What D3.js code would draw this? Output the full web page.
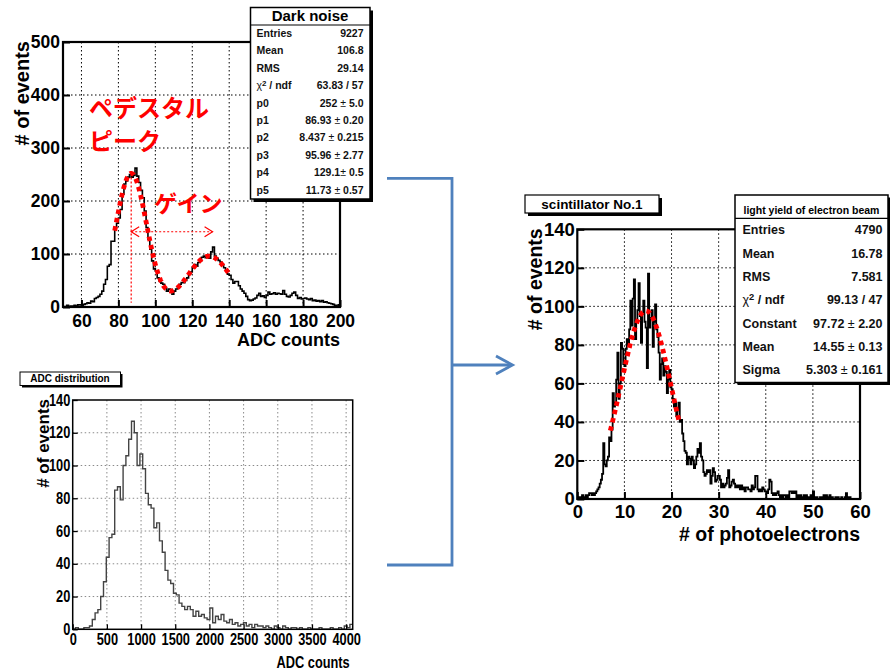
<!DOCTYPE html>
<html>
<head>
<meta charset="utf-8">
<script src="https://cdn.jsdelivr.net/npm/d3@7"></script>
<style>
  html, body { margin: 0; padding: 0; background: #fff; }
  svg { display: block; }
</style>
</head>
<body>
<svg id="chart" width="890" height="670"></svg>
<script>
// ---------------- Dark noise spectrum (1 ADC count per bin, 50..200) ----------------
const darkBinStart = 50;
const darkBinWidth = 1;
const darkCounts = [
  0, 1, 3, 1, 2, 2, 3, 2, 4, 4,
  3, 5, 6, 8, 7, 11, 10, 16, 18, 20,
  24, 30, 43, 52, 77, 80, 124, 124, 150, 158,
  168, 184, 213, 232, 238, 245, 250, 245, 248, 262,
  247, 235, 220, 206, 181, 150, 128, 109, 87, 72,
  68, 55, 49, 45, 43, 36, 30, 34, 33, 24,
  30, 34, 36, 43, 46, 46, 50, 55, 62, 66,
  74, 80, 77, 84, 87, 94, 96, 93, 96, 92,
  104, 113, 96, 92, 88, 85, 80, 74, 70, 62,
  60, 52, 45, 48, 48, 40, 34, 30, 26, 20,
  14, 12, 13, 15, 17, 22, 26, 20, 21, 18,
  22, 28, 24, 25, 27, 24, 26, 25, 24, 31,
  24, 20, 19, 22, 26, 28, 22, 16, 18, 15,
  16, 17, 15, 14, 16, 12, 13, 11, 12, 10,
  12, 9, 10, 8, 7, 6, 5, 3, 2, 4
];
// double-gaussian fit parameters p0..p5
const darkFitParams = [252, 86.93, 8.437, 95.96, 129.1, 11.73];
const darkFitRange = [78, 140];
const darkXTicks = [60, 80, 100, 120, 140, 160, 180, 200];
const darkYTicks = [0, 100, 200, 300, 400, 500];
const darkStatsLabels = ["Entries", "Mean", "RMS", "\u03c7\u00b2 / ndf", "p0", "p1", "p2", "p3", "p4", "p5"];
const darkStatsValues = ["9227", "106.8", "29.14", "63.83 / 57", "252 \u00b1 5.0", "86.93 \u00b1 0.20",
                         "8.437 \u00b1 0.215", "95.96 \u00b1 2.77", "129.1\u00b1 0.5", "11.73 \u00b1 0.57"];
// gain arrow: from pedestal peak to the first photoelectron peak
const gainArrowLevel = 142;
const gainArrowEnd = 131;
const pedestalLineBottom = 8;

// ---------------- ADC distribution (100 bins over 0..4096) ----------------
const adcBinStart = 0;
const adcBinWidth = 40.96;
const adcCounts = [
  0, 1, 0, 0, 1, 1, 2, 6, 10, 12,
  20, 29, 44, 56, 58, 85, 87, 79, 100, 106,
  116, 127, 120, 100, 107, 98, 83, 76, 74, 62,
  65, 54, 47, 36, 30, 28, 22, 21, 16, 14,
  12, 14, 12, 8, 11, 8, 9, 7, 6, 13,
  4, 8, 6, 9, 5, 4, 6, 3, 4, 2,
  3, 4, 2, 3, 1, 3, 2, 2, 1, 2,
  1, 0, 2, 1, 0, 2, 1, 0, 1, 1,
  0, 1, 0, 0, 1, 0, 0, 0, 1, 0,
  0, 0, 1, 0, 0, 1, 0, 2, 1, 3
];
const adcXTicks = [0, 500, 1000, 1500, 2000, 2500, 3000, 3500, 4000];
const adcYTicks = [0, 20, 40, 60, 80, 100, 120, 140];

// ---------------- Light yield, scintillator No.1 (0.25 p.e. per bin, 0..60) ----------------
const lyBinStart = 0;
const lyBinWidth = 0.25;
const lyCounts = [
  0, 1, 0, 1,   2, 1, 1, 2,   1, 2, 3, 3,   2, 3, 2, 3,   4, 5, 6, 8,
  10, 13, 29, 18,   17, 20, 22, 32,   30, 36, 55, 48,   50, 62, 76, 52,   60, 81, 78, 70,
  69, 78, 83, 80,   88, 103, 90, 104,   114, 83, 92, 98,   112, 95, 81, 96,   103, 92, 89, 68,
  117, 89, 94, 98,   79, 92, 101, 88,   84, 76, 62, 70,   73, 64, 69, 66,   55, 62, 67, 58,
  57, 52, 48, 50,   43, 46, 50, 40,   41, 34, 30, 25,   24, 18, 22, 21,   18, 22, 20, 16,
  18, 22, 26, 24,   29, 22, 20, 14,   12, 13, 15, 14,   15, 8, 12, 16,   14, 9, 10, 12,
  12, 10, 6, 8,   6, 7, 8, 11,   15, 6, 7, 9,   10, 8, 6, 7,   6, 7, 5, 7,
  5, 6, 4, 6,   6, 5, 5, 4,   7, 5, 6, 12,   12, 5, 4, 5,   4, 6, 5, 4,
  4, 3, 5, 10,   9, 3, 2, 3,   2, 3, 4, 2,   1, 2, 1, 2,   2, 1, 2, 1,
  4, 4, 3, 4,   3, 4, 1, 2,   1, 2, 1, 1,   2, 1, 2, 1,   1, 0, 2, 1,
  4, 1, 0, 1,   0, 0, 1, 0,   1, 2, 1, 2,   1, 1, 2, 0,   1, 0, 0, 1,
  0, 1, 0, 0,   1, 0, 0, 1,   3, 1, 0, 1,   0, 0, 0, 0,   0, 0, 0, 0
];
const lyFitConstant = 97.72, lyFitMean = 14.55, lyFitSigma = 5.303;
const lyFitRange = [7, 21.6];
const lyXTicks = [0, 10, 20, 30, 40, 50, 60];
const lyYTicks = [0, 20, 40, 60, 80, 100, 120, 140];
const lyStatsLabels = ["Entries", "Mean", "RMS", "\u03c7\u00b2 / ndf", "Constant", "Mean", "Sigma"];
const lyStatsValues = ["4790", "16.78", "7.581", "99.13 / 47", "97.72 \u00b1 2.20", "14.55 \u00b1 0.13", "5.303 \u00b1 0.161"];

// ---------------- drawing ----------------
const FONT = '"Liberation Sans", Arial, Helvetica, sans-serif';
const JP = '"Noto Sans CJK JP", "Noto Sans CJK SC", sans-serif';
const svg = d3.select("#chart");
const defs = svg.append("defs");

function histPoints(counts, start, width) {
  const pts = [[start, 0]];
  counts.forEach((c, i) => {
    pts.push([start + i * width, c]);
    pts.push([start + (i + 1) * width, c]);
  });
  pts.push([start + counts.length * width, 0]);
  return pts;
}

function panel(o) {
  const x = d3.scaleLinear().domain(o.xDomain).range([o.left, o.right]);
  const y = d3.scaleLinear().domain(o.yDomain).range([o.bottom, o.top]);
  const g = svg.append("g");
  defs.append("clipPath").attr("id", o.id + "-clip")
    .append("rect").attr("x", o.left).attr("y", o.top)
    .attr("width", o.right - o.left).attr("height", o.bottom - o.top);

  // dotted grid
  const grid = g.append("g").attr("stroke", o.gridColor).attr("stroke-width", 1)
    .attr("stroke-dasharray", "1.5,2.5");
  grid.selectAll(".gx").data(o.xTicks.filter(t => x(t) > o.left + 2 && x(t) < o.right - 2)).join("line")
    .attr("x1", d => x(d)).attr("x2", d => x(d)).attr("y1", o.top).attr("y2", o.bottom);
  grid.selectAll(".gy").data(o.yTicks.filter(t => y(t) < o.bottom - 2 && y(t) > o.top + 2)).join("line")
    .attr("y1", d => y(d)).attr("y2", d => y(d)).attr("x1", o.left).attr("x2", o.right);

  // histogram outline
  const line = d3.line().x(d => x(d[0])).y(d => y(d[1]));
  g.append("path")
    .attr("d", line(histPoints(o.counts, o.binStart, o.binWidth)))
    .attr("clip-path", `url(#${o.id}-clip)`)
    .attr("fill", "none").attr("stroke", o.histColor).attr("stroke-width", o.histWidth)
    .attr("stroke-linejoin", "miter");

  // axes with inward ticks
  const xa = g.append("g").attr("transform", `translate(0,${o.bottom})`)
    .call(d3.axisBottom(x).tickValues(o.xTicks).tickFormat(d3.format("d"))
      .tickSizeInner(-o.tickLen).tickSizeOuter(0).tickPadding(o.xPad));
  const ya = g.append("g").attr("transform", `translate(${o.left},0)`)
    .call(d3.axisLeft(y).tickValues(o.yTicks).tickFormat(d3.format("d"))
      .tickSizeInner(-o.tickLen).tickSizeOuter(0).tickPadding(o.yPad));
  [xa, ya].forEach(a => {
    a.select(".domain").remove();
    a.selectAll(".tick line").attr("stroke", "#000").attr("stroke-width", o.tickWidth);
    a.selectAll(".tick text").attr("font-family", FONT).attr("font-weight", "bold")
      .attr("font-size", o.tickFont).attr("fill", "#000");
    if (o.squeeze) a.selectAll(".tick text").attr("transform", `scale(${o.squeeze},1)`);
  });

  // frame
  g.append("rect").attr("x", o.left).attr("y", o.top)
    .attr("width", o.right - o.left).attr("height", o.bottom - o.top)
    .attr("fill", "none").attr("stroke", "#000").attr("stroke-width", o.frameWidth);

  // axis titles
  g.append("text").attr("font-family", FONT).attr("font-weight", "bold")
    .attr("font-size", o.xTitleFont).attr("text-anchor", "end").attr("fill", "#000")
    .attr("transform", `translate(${o.right + (o.xTitleDx || 0)},${o.xTitleY})` + (o.squeeze ? ` scale(${o.squeeze},1)` : ""))
    .text(o.xTitle);
  g.append("text").attr("font-family", FONT).attr("font-weight", "bold")
    .attr("font-size", o.yTitleFont).attr("text-anchor", "end").attr("fill", "#000")
    .attr("transform", `translate(${o.yTitleX},${o.top - 1}) rotate(-90)`)
    .text(o.yTitle);
  return { x, y, g };
}

function fitPath(p, x, y, lo, hi, f) {
  const xs = d3.range(lo, hi + 1e-9, (hi - lo) / 200);
  const line = d3.line().x(d => x(d)).y(d => y(f(d)));
  p.append("path").attr("d", line(xs))
    .attr("fill", "none").attr("stroke", "#ff0000").attr("stroke-width", 4.8)
    .attr("stroke-dasharray", "4.5,4");
}

function shadowBox(x0, y0, w, h, sh, lw) {
  svg.append("rect").attr("x", x0 + sh).attr("y", y0 + sh).attr("width", w).attr("height", h).attr("fill", "#000");
  svg.append("rect").attr("x", x0).attr("y", y0).attr("width", w).attr("height", h)
    .attr("fill", "#fff").attr("stroke", "#000").attr("stroke-width", lw);
}

function statRow(parent, label, value, lx, rx, cy, size) {
  const t = parent.append("text").attr("x", lx).attr("y", cy).attr("dy", "0.35em")
    .attr("font-family", FONT).attr("font-size", size).attr("font-weight", "bold").attr("fill", "#111");
  if (label.startsWith("\u03c7")) {
    t.append("tspan").attr("font-weight", "normal").text("\u03c7");
    t.append("tspan").attr("font-size", size * 0.75).attr("dy", -size * 0.35).text("2");
    t.append("tspan").attr("dy", size * 0.35).text(" / ndf");
  } else t.text(label);
  const v = parent.append("text").attr("x", rx).attr("y", cy).attr("dy", "0.35em").attr("text-anchor", "end")
    .attr("font-family", FONT).attr("font-size", size).attr("font-weight", "bold").attr("fill", "#111");
  value.split("\u00b1").forEach((part, i) => {
    if (i > 0) v.append("tspan").attr("font-weight", "normal").text("\u00b1");
    v.append("tspan").text(part);
  });
}

// ---- Panel 1: Dark noise
const dark = panel({
  id: "dark", left: 63, right: 340, top: 42, bottom: 307,
  xDomain: [50, 200], yDomain: [0, 500], xTicks: darkXTicks, yTicks: darkYTicks,
  gridColor: "#000", counts: darkCounts, binStart: darkBinStart, binWidth: darkBinWidth,
  histColor: "#000", histWidth: 1.6, tickLen: 7, tickWidth: 2, frameWidth: 2.2,
  xPad: 8, yPad: 3, tickFont: 17.5,
  xTitle: "ADC counts", xTitleFont: 18, xTitleY: 346,
  yTitle: "# of events", yTitleFont: 20, yTitleX: 29
});
{
  const [p0, p1, p2, p3, p4, p5] = darkFitParams;
  const f = v => p0 * Math.exp(-0.5 * ((v - p1) / p2) ** 2) + p3 * Math.exp(-0.5 * ((v - p4) / p5) ** 2);
  const ann = dark.g.append("g").attr("stroke", "#ff0000").attr("fill", "none");
  // pedestal position marker
  ann.append("line").attr("x1", dark.x(p1)).attr("x2", dark.x(p1))
    .attr("y1", dark.y(p0)).attr("y2", dark.y(pedestalLineBottom))
    .attr("stroke-width", 1.2).attr("stroke-dasharray", "2,2");
  // gain arrow
  const ay = dark.y(gainArrowLevel), ax0 = dark.x(p1), ax1 = dark.x(gainArrowEnd);
  ann.append("line").attr("x1", ax0).attr("x2", ax1).attr("y1", ay).attr("y2", ay)
    .attr("stroke-width", 1.2).attr("stroke-dasharray", "2,2");
  ann.append("path").attr("d", `M${ax0 + 8},${ay - 5}L${ax0},${ay}L${ax0 + 8},${ay + 5}`).attr("stroke-width", 1.2);
  ann.append("path").attr("d", `M${ax1 - 8},${ay - 5}L${ax1},${ay}L${ax1 - 8},${ay + 5}`).attr("stroke-width", 1.2);
  fitPath(dark.g, dark.x, dark.y, darkFitRange[0], darkFitRange[1], f);

  const jp = dark.g.append("g").attr("font-family", JP).attr("font-weight", "bold").attr("fill", "#ff0000");
  jp.append("text").attr("x", 89).attr("y", 117).attr("font-size", 24).text("ペデスタル");
  jp.append("text").attr("x", 89).attr("y", 150).attr("font-size", 24).text("ピーク");
  jp.append("text").attr("x", 154).attr("y", 212).attr("font-size", 23).text("ゲイン");
}
// stats box
shadowBox(250.5, 7.5, 119.5, 191.5, 3, 1.5);
svg.append("line").attr("x1", 250.5).attr("x2", 370).attr("y1", 25).attr("y2", 25).attr("stroke", "#000").attr("stroke-width", 1.2);
svg.append("text").attr("x", 310).attr("y", 21).attr("text-anchor", "middle")
  .attr("font-family", FONT).attr("font-weight", "bold").attr("font-size", 15).text("Dark noise");
{
  const sg = svg.append("g");
  darkStatsLabels.forEach((l, i) => statRow(sg, l, darkStatsValues[i], 256.5, 363.5, 33.3 + i * 17.4, 10.5));
}

// ---- Panel 2: ADC distribution
const adc = panel({
  id: "adc", left: 72.7, right: 352.7, top: 400, bottom: 629.3,
  xDomain: [0, 4096], yDomain: [0, 140], xTicks: adcXTicks, yTicks: adcYTicks,
  gridColor: "#8a8a8a", counts: adcCounts, binStart: adcBinStart, binWidth: adcBinWidth,
  histColor: "#444", histWidth: 1.4, tickLen: 5, tickWidth: 1.3, frameWidth: 1.5,
  xPad: 4, yPad: 3, tickFont: 16, squeeze: 0.8,
  xTitle: "ADC counts", xTitleFont: 16, xTitleY: 667.5, xTitleDx: -3,
  yTitle: "# of events", yTitleFont: 17, yTitleX: 49
});
shadowBox(20, 372, 100.5, 13.5, 2, 1);
svg.append("text").attr("x", 70).attr("y", 382.3).attr("text-anchor", "middle")
  .attr("font-family", FONT).attr("font-weight", "bold").attr("font-size", 10).text("ADC distribution");

// ---- Panel 3: light yield
const ly = panel({
  id: "ly", left: 577.3, right: 860, top: 229.3, bottom: 499,
  xDomain: [0, 60], yDomain: [0, 140], xTicks: lyXTicks, yTicks: lyYTicks,
  gridColor: "#000", counts: lyCounts, binStart: lyBinStart, binWidth: lyBinWidth,
  histColor: "#000", histWidth: 1.8, tickLen: 7, tickWidth: 2, frameWidth: 2.2,
  xPad: 6, yPad: 2.5, tickFont: 18.5,
  xTitle: "# of photoelectrons", xTitleFont: 19.5, xTitleY: 541,
  yTitle: "# of events", yTitleFont: 19.5, yTitleX: 542
});
fitPath(ly.g, ly.x, ly.y, lyFitRange[0], lyFitRange[1],
  v => lyFitConstant * Math.exp(-0.5 * ((v - lyFitMean) / lyFitSigma) ** 2));
shadowBox(525, 195, 134, 18, 3, 1.2);
svg.append("text").attr("x", 592).attr("y", 209).attr("text-anchor", "middle")
  .attr("font-family", FONT).attr("font-weight", "bold").attr("font-size", 13.5).text("scintillator No.1");
shadowBox(735, 195, 153, 187.5, 2.5, 1.5);
svg.append("line").attr("x1", 735).attr("x2", 888).attr("y1", 218.3).attr("y2", 218.3).attr("stroke", "#000").attr("stroke-width", 1.2);
svg.append("text").attr("x", 811.5).attr("y", 214).attr("text-anchor", "middle")
  .attr("font-family", FONT).attr("font-weight", "bold").attr("font-size", 10.5).text("light yield of electron beam");
{
  const sg = svg.append("g");
  lyStatsLabels.forEach((l, i) => statRow(sg, l, lyStatsValues[i], 742.5, 882.5, 230 + i * 23.35, 12.5));
}

// ---- connecting bracket and arrow
{
  const blue = "#4f81bd";
  const b = svg.append("g").attr("stroke", blue).attr("stroke-width", 2.8).attr("fill", "none");
  b.append("path").attr("d", "M387,178.3H452V565H387");
  b.append("path").attr("d", "M452,365H512");
  b.append("path").attr("d", "M496,356L512.5,365L496,374").attr("stroke-linejoin", "miter");
}
</script>
</body>
</html>
